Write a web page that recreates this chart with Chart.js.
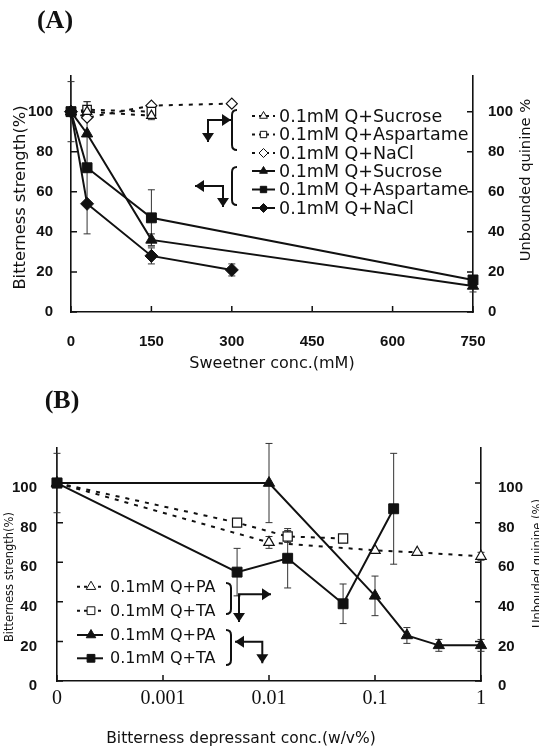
<!DOCTYPE html>
<html>
<head>
<meta charset="utf-8">
<title>Bitterness strength</title>
<script src="https://cdn.jsdelivr.net/npm/chart.js@4.4.1/dist/chart.umd.min.js"></script>
<style>
  html, body { margin: 0; padding: 0; background: #fff; }
  body { width: 539px; height: 751px; position: relative; overflow: hidden; }
  .panel { position: absolute; left: 0; width: 539px; }
  #panelA { top: 0; height: 380px; }
  #panelB { top: 380px; height: 371px; }
</style>
</head>
<body>
<div class="panel" id="panelA"><canvas id="chartA"></canvas></div>
<div class="panel" id="panelB"><canvas id="chartB"></canvas></div>
<script>
/* ===== Panel A data: sweetener conc. (mM) ===== */
const aSucroseX = [0, 30, 150, 750];
const aSucroseBitter = [100, 89, 36, 13];
const aSucroseBitterErr = [15, 0, 3, 3];
const aAspartameX = [0, 30, 150, 750];
const aAspartameBitter = [100, 72, 47, 16];
const aAspartameBitterErr = [0, 33, 14, 2];
const aNaclX = [0, 30, 150, 300];
const aNaclBitter = [100, 54, 28, 21];
const aNaclBitterErr = [0, 0, 4, 3];
// unbound quinine (right axis)
const aSucroseFreeX = [0, 30, 150];
const aSucroseFree = [100, 100, 98];
const aSucroseFreeErr = [0, 0, 2];
const aAspartameFreeX = [0, 30, 150];
const aAspartameFree = [100, 101, 100];
const aAspartameFreeErr = [0, 4, 0];
const aNaclFreeX = [0, 30, 150, 300];
const aNaclFree = [100, 97, 103, 104];
const aXTicks = [0, 150, 300, 450, 600, 750];

/* ===== Panel B data: bitterness depressant conc. (w/v%) ===== */
const bPaX = [0, 0.01, 0.1, 0.2, 0.4, 1];
const bPaBitter = [100, 100, 43, 23, 18, 18];
const bPaBitterErr = [15, 20, 10, 4, 3, 3];
const bTaX = [0, 0.005, 0.015, 0.05, 0.15];
const bTaBitter = [100, 55, 62, 39, 87];
const bTaBitterErr = [0, 12, 15, 10, 28];
const bPaFreeX = [0, 0.01, 0.1, 0.25, 1];
const bPaFree = [100, 70, 66, 65, 63];
const bPaFreeErr = [0, 3, 0, 0, 2];
const bTaFreeX = [0, 0.005, 0.015, 0.05];
const bTaFree = [100, 80, 73, 72];
const bTaFreeErr = [0, 0, 3, 0];
const bXTicks = [0.0001, 0.001, 0.01, 0.1, 1];
const bXTickLabels = ['0', '0.001', '0.01', '0.1', '1'];
const bZeroAt = 0.0001; // "0" is drawn one decade below 0.001

const yTicks = [0, 20, 40, 60, 80, 100];
const Y_MAX = 118;

const INK = '#111';
const SANS = '"DejaVu Sans", sans-serif';
const TICKFONT = { family: '"Liberation Sans", Arial, sans-serif', size: 15, weight: 'bold' };

function pts(xs, ys) {
  return xs.map((x, i) => ({ x: x, y: ys[i] }));
}
function ptsLog(xs, ys) {
  return xs.map((x, i) => ({ x: x === 0 ? bZeroAt : x, y: ys[i] }));
}

function solid(label, data, style, r, err) {
  return {
    label, data, errors: err, yAxisID: 'y',
    showLine: true, borderColor: INK, borderWidth: 2,
    pointStyle: style, pointRadius: r, pointBackgroundColor: INK,
    pointBorderColor: INK, pointBorderWidth: 1, clip: false
  };
}
function open(label, data, style, r, err) {
  return {
    label, data, errors: err, yAxisID: 'y2',
    showLine: true, borderColor: INK, borderWidth: 2, borderDash: [4, 6],
    pointStyle: style, pointRadius: r, pointBackgroundColor: '#fff',
    pointBorderColor: INK, pointBorderWidth: 1.2, clip: false
  };
}

/* ===== drawing helpers ===== */
function arrowHead(ctx, x, y, dir) {
  const len = 9, half = 6;
  ctx.beginPath();
  ctx.moveTo(x, y);
  if (dir === 'right') { ctx.lineTo(x - len, y - half); ctx.lineTo(x - len, y + half); }
  if (dir === 'left') { ctx.lineTo(x + len, y - half); ctx.lineTo(x + len, y + half); }
  if (dir === 'down') { ctx.lineTo(x - half, y - len); ctx.lineTo(x + half, y - len); }
  ctx.closePath();
  ctx.fill();
}
function elbow(ctx, a) {
  ctx.beginPath();
  ctx.moveTo(a.hx, a.cy); ctx.lineTo(a.cx, a.cy); ctx.lineTo(a.cx, a.vy);
  ctx.stroke();
  arrowHead(ctx, a.hx, a.cy, a.hx > a.cx ? 'right' : 'left');
  arrowHead(ctx, a.cx, a.vy, 'down');
}
function bracket(ctx, b) {
  const r = 5, s = b.side;
  ctx.beginPath();
  ctx.moveTo(b.x + s * 5, b.y0);
  ctx.quadraticCurveTo(b.x, b.y0, b.x, b.y0 + r);
  ctx.lineTo(b.x, b.y1 - r);
  ctx.quadraticCurveTo(b.x, b.y1, b.x + s * 5, b.y1);
  ctx.stroke();
}
function rotText(ctx, text, x, y, font) {
  ctx.save();
  ctx.translate(x, y);
  ctx.rotate(-Math.PI / 2);
  ctx.font = font;
  ctx.textAlign = 'center';
  ctx.textBaseline = 'middle';
  ctx.fillText(text, 0, 0);
  ctx.restore();
}

const decor = {
  id: 'decor',
  beforeDatasetsDraw(chart) {
    // error bars, behind the markers
    const ctx = chart.ctx;
    ctx.save();
    ctx.strokeStyle = '#333';
    ctx.lineWidth = 1;
    chart.data.datasets.forEach((ds, i) => {
      if (!ds.errors) return;
      const meta = chart.getDatasetMeta(i);
      const ys = chart.scales[ds.yAxisID];
      ds.errors.forEach((e, j) => {
        if (!e) return;
        const x = meta.data[j].x, v = ds.data[j].y;
        const t = ys.getPixelForValue(v + e), b = ys.getPixelForValue(v - e);
        ctx.beginPath();
        ctx.moveTo(x, t); ctx.lineTo(x, b);
        ctx.moveTo(x - 3.5, t); ctx.lineTo(x + 3.5, t);
        ctx.moveTo(x - 3.5, b); ctx.lineTo(x + 3.5, b);
        ctx.stroke();
      });
    });
    ctx.restore();
  },
  afterDraw(chart, args, o) {
    const ctx = chart.ctx, area = chart.chartArea;
    ctx.save();
    ctx.strokeStyle = INK;
    ctx.fillStyle = INK;
    ctx.lineWidth = 1.5;

    // inward tick marks
    const ys = chart.scales.y, xs = chart.scales.x;
    ctx.beginPath();
    yTicks.forEach(v => {
      const p = ys.getPixelForValue(v);
      ctx.moveTo(area.left, p); ctx.lineTo(area.left + 6, p);
      ctx.moveTo(area.right - 6, p); ctx.lineTo(area.right, p);
    });
    o.xTicks.forEach(v => {
      const p = xs.getPixelForValue(v);
      ctx.moveTo(p, area.bottom); ctx.lineTo(p, area.bottom - 6);
    });
    ctx.stroke();

    // legend
    const L = o.legend;
    ctx.lineWidth = 2;
    L.brackets.forEach(b => bracket(ctx, b));
    L.arrows.forEach(a => elbow(ctx, a));
    L.rows.forEach((di, k) => {
      const ds = chart.data.datasets[di];
      const y = L.ys[k];
      ctx.save();
      ctx.lineWidth = 2;
      if (ds.borderDash) ctx.setLineDash([3, 4]);
      ctx.beginPath();
      ctx.moveTo(L.x0, y); ctx.lineTo(L.x1, y);
      ctx.stroke();
      ctx.restore();
      ctx.save();
      ctx.fillStyle = ds.pointBackgroundColor;
      ctx.strokeStyle = INK;
      ctx.lineWidth = 1;
      Chart.helpers.drawPoint(ctx, { pointStyle: ds.pointStyle, radius: L.markR, borderWidth: 1, rotation: 0 }, L.mx, y);
      ctx.restore();
      ctx.font = L.font;
      ctx.textAlign = 'left';
      ctx.textBaseline = 'middle';
      ctx.fillText(ds.label, L.tx, y + 1);
    });

    // axis titles and panel label
    const T = o.titles;
    rotText(ctx, T.left, T.leftX, T.leftY, T.leftFont);
    rotText(ctx, T.right, T.rightX, T.rightY, T.rightFont);
    ctx.font = T.xFont;
    ctx.textAlign = 'center';
    ctx.textBaseline = 'middle';
    ctx.fillText(T.x, T.xX, T.xY);
    ctx.font = 'bold 26px "Liberation Serif", "Times New Roman", serif';
    ctx.fillText(T.panel, T.panelX, T.panelY);
    ctx.restore();
  }
};

function yAxis(pos, width, padding, offset) {
  return {
    type: 'linear', position: pos, min: 0, max: Y_MAX,
    afterBuildTicks: s => { s.ticks = yTicks.map(v => ({ value: v })); },
    afterFit: s => { s.width = width; },
    grid: { display: true, drawOnChartArea: false, drawTicks: false },
    border: { display: true, color: INK, width: 1.6 },
    ticks: { font: TICKFONT, color: INK, padding: padding, labelOffset: offset }
  };
}

/* ===== Panel A ===== */
new Chart(document.getElementById('chartA'), {
  type: 'scatter',
  data: {
    datasets: [
      solid('0.1mM Q+Sucrose', pts(aSucroseX, aSucroseBitter), 'triangle', 6.5, aSucroseBitterErr),
      solid('0.1mM Q+Aspartame', pts(aAspartameX, aAspartameBitter), 'rect', 7, aAspartameBitterErr),
      solid('0.1mM Q+NaCl', pts(aNaclX, aNaclBitter), 'rectRot', 6.5, aNaclBitterErr),
      open('0.1mM Q+Sucrose', pts(aSucroseFreeX, aSucroseFree), 'triangle', 5.5, aSucroseFreeErr),
      open('0.1mM Q+Aspartame', pts(aAspartameFreeX, aAspartameFree), 'rect', 6, aAspartameFreeErr),
      open('0.1mM Q+NaCl', pts(aNaclFreeX, aNaclFree), 'rectRot', 5.5, null)
    ]
  },
  options: {
    responsive: true,
    maintainAspectRatio: false,
    animation: false,
    events: [],
    layout: { padding: { top: 75.6, left: 0, right: 0, bottom: 0 } },
    plugins: {
      legend: { display: false },
      tooltip: { enabled: false },
      decor: {
        xTicks: aXTicks,
        legend: {
          rows: [3, 4, 5, 0, 1, 2],
          ys: [116, 134.5, 153, 171, 189.5, 208],
          x0: 252, x1: 275, mx: 263.5, tx: 279, markR: 4.5,
          font: '17.5px ' + SANS,
          brackets: [{ x: 232, y0: 110, y1: 150, side: 1 }, { x: 232, y0: 167, y1: 205, side: 1 }],
          arrows: [{ cx: 208, cy: 120, hx: 231, vy: 142 }, { cx: 223, cy: 186, hx: 195, vy: 207 }]
        },
        titles: {
          left: 'Bitterness strength(%)', leftX: 20.5, leftY: 197.5, leftFont: '16.3px ' + SANS,
          right: 'Unbounded quinine %', rightX: 526.5, rightY: 180, rightFont: '14.7px ' + SANS,
          x: 'Sweetner conc.(mM)', xX: 272, xY: 364, xFont: '16px ' + SANS,
          panel: '(A)', panelX: 55, panelY: 21
        }
      }
    },
    scales: {
      x: {
        type: 'linear', min: 0, max: 750,
        afterBuildTicks: s => { s.ticks = aXTicks.map(v => ({ value: v })); },
        afterFit: s => { s.height = 68; },
        grid: { display: true, drawOnChartArea: false, drawTicks: false },
        border: { display: true, color: INK, width: 1.6 },
        ticks: { font: TICKFONT, color: INK, padding: 21, maxRotation: 0, autoSkip: false }
      },
      y: yAxis('left', 71, 18, 0),
      y2: yAxis('right', 66, 15, 0)
    }
  },
  plugins: [decor]
});

/* ===== Panel B ===== */
new Chart(document.getElementById('chartB'), {
  type: 'scatter',
  data: {
    datasets: [
      solid('0.1mM Q+PA', ptsLog(bPaX, bPaBitter), 'triangle', 6.5, bPaBitterErr),
      solid('0.1mM Q+TA', ptsLog(bTaX, bTaBitter), 'rect', 7, bTaBitterErr),
      open('0.1mM Q+PA', ptsLog(bPaFreeX, bPaFree), 'triangle', 6, bPaFreeErr),
      open('0.1mM Q+TA', ptsLog(bTaFreeX, bTaFree), 'rect', 6.5, bTaFreeErr)
    ]
  },
  options: {
    responsive: true,
    maintainAspectRatio: false,
    animation: false,
    events: [],
    layout: { padding: { top: 67.4, left: 0, right: 0, bottom: 0 } },
    plugins: {
      legend: { display: false },
      tooltip: { enabled: false },
      decor: {
        xTicks: bXTicks,
        legend: {
          rows: [2, 3, 0, 1],
          ys: [206.7, 230.7, 255, 278.3],
          x0: 77, x1: 103, mx: 91, tx: 110, markR: 5.5,
          font: '16px ' + SANS,
          brackets: [{ x: 231, y0: 203, y1: 234, side: -1 }, { x: 231, y0: 250, y1: 285, side: -1 }],
          arrows: [{ cx: 239, cy: 214.3, hx: 271, vy: 242 }, { cx: 262.3, cy: 261.7, hx: 235, vy: 283.3 }]
        },
        titles: {
          left: 'Bitterness strength(%)', leftX: 10, leftY: 197, leftFont: '11.5px ' + SANS,
          right: 'Unbouded quinine (%)', rightX: 538, rightY: 183.5, rightFont: '11.5px ' + SANS,
          x: 'Bitterness depressant conc.(w/v%)', xX: 241, xY: 359, xFont: '15.5px ' + SANS,
          panel: '(B)', panelX: 62, panelY: 21
        }
      }
    },
    scales: {
      x: {
        type: 'logarithmic', min: bZeroAt, max: 1,
        afterBuildTicks: s => { s.ticks = bXTicks.map(v => ({ value: v })); },
        afterFit: s => { s.height = 70; },
        grid: { display: true, drawOnChartArea: false, drawTicks: false },
        border: { display: true, color: INK, width: 1.6 },
        ticks: {
          font: { family: '"Liberation Serif", "Times New Roman", serif', size: 20 },
          color: INK, padding: 6, maxRotation: 0, autoSkip: false,
          callback: (v, i) => bXTickLabels[i]
        }
      },
      y: yAxis('left', 57, 20, 5),
      y2: yAxis('right', 58, 17, 5)
    }
  },
  plugins: [decor]
});
</script>
</body>
</html>
